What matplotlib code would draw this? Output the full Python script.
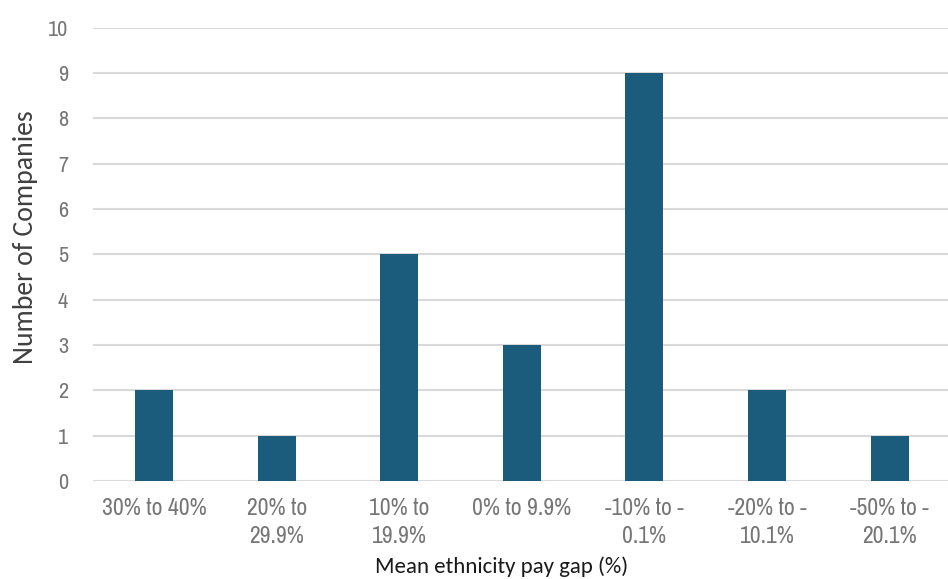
import matplotlib
matplotlib.use("Agg")
import matplotlib.pyplot as plt

categories = ["30% to 40%", "20% to\n29.9%", "10% to\n19.9%", "0% to 9.9%",
              "-10% to -\n0.1%", "-20% to -\n10.1%", "-50% to -\n20.1%"]
companies = [2, 1, 5, 3, 9, 2, 1]
yticks = list(range(0, 11))

tick_font = ["Archivo Narrow", "DejaVu Sans"]
title_font = ["Carlito", "DejaVu Sans"]

fig = plt.figure(figsize=(9.48, 5.79), dpi=100)
ax = fig.add_axes([0.098, 0.169, 0.905, 0.783])

x = list(range(len(categories)))
ax.bar(x, companies, width=0.31, color="#1b5b7c", zorder=3)

ax.set_xlim(-0.5, len(categories) - 0.5)
ax.set_ylim(0, 10)
ax.set_yticks(yticks)
ax.yaxis.grid(True, color="#d9d9d9", linewidth=1.5, zorder=0)
ax.set_axisbelow(True)
for s in ax.spines.values():
    s.set_visible(False)
ax.tick_params(axis="both", length=0, colors="#767676")
ax.tick_params(axis="y", pad=18, labelsize=16)
ax.tick_params(axis="x", pad=12, labelsize=17)
ax.set_xticks(x)
ax.set_xticklabels(categories, linespacing=1.45)
for lbl in ax.get_xticklabels() + ax.get_yticklabels():
    lbl.set_fontfamily(tick_font)

ax.set_ylabel("Number of Companies", fontsize=20, color="#404040",
              family=title_font, va="center", ha="center")
ax.yaxis.set_label_coords(-0.079, 0.539)
ax.set_xlabel("Mean ethnicity pay gap (%)", fontsize=16.5, color="#1a1a1a",
              family=title_font, va="center", ha="center")
ax.xaxis.set_label_coords(0.476, -0.188)

fig.savefig("out.png", dpi=100)
